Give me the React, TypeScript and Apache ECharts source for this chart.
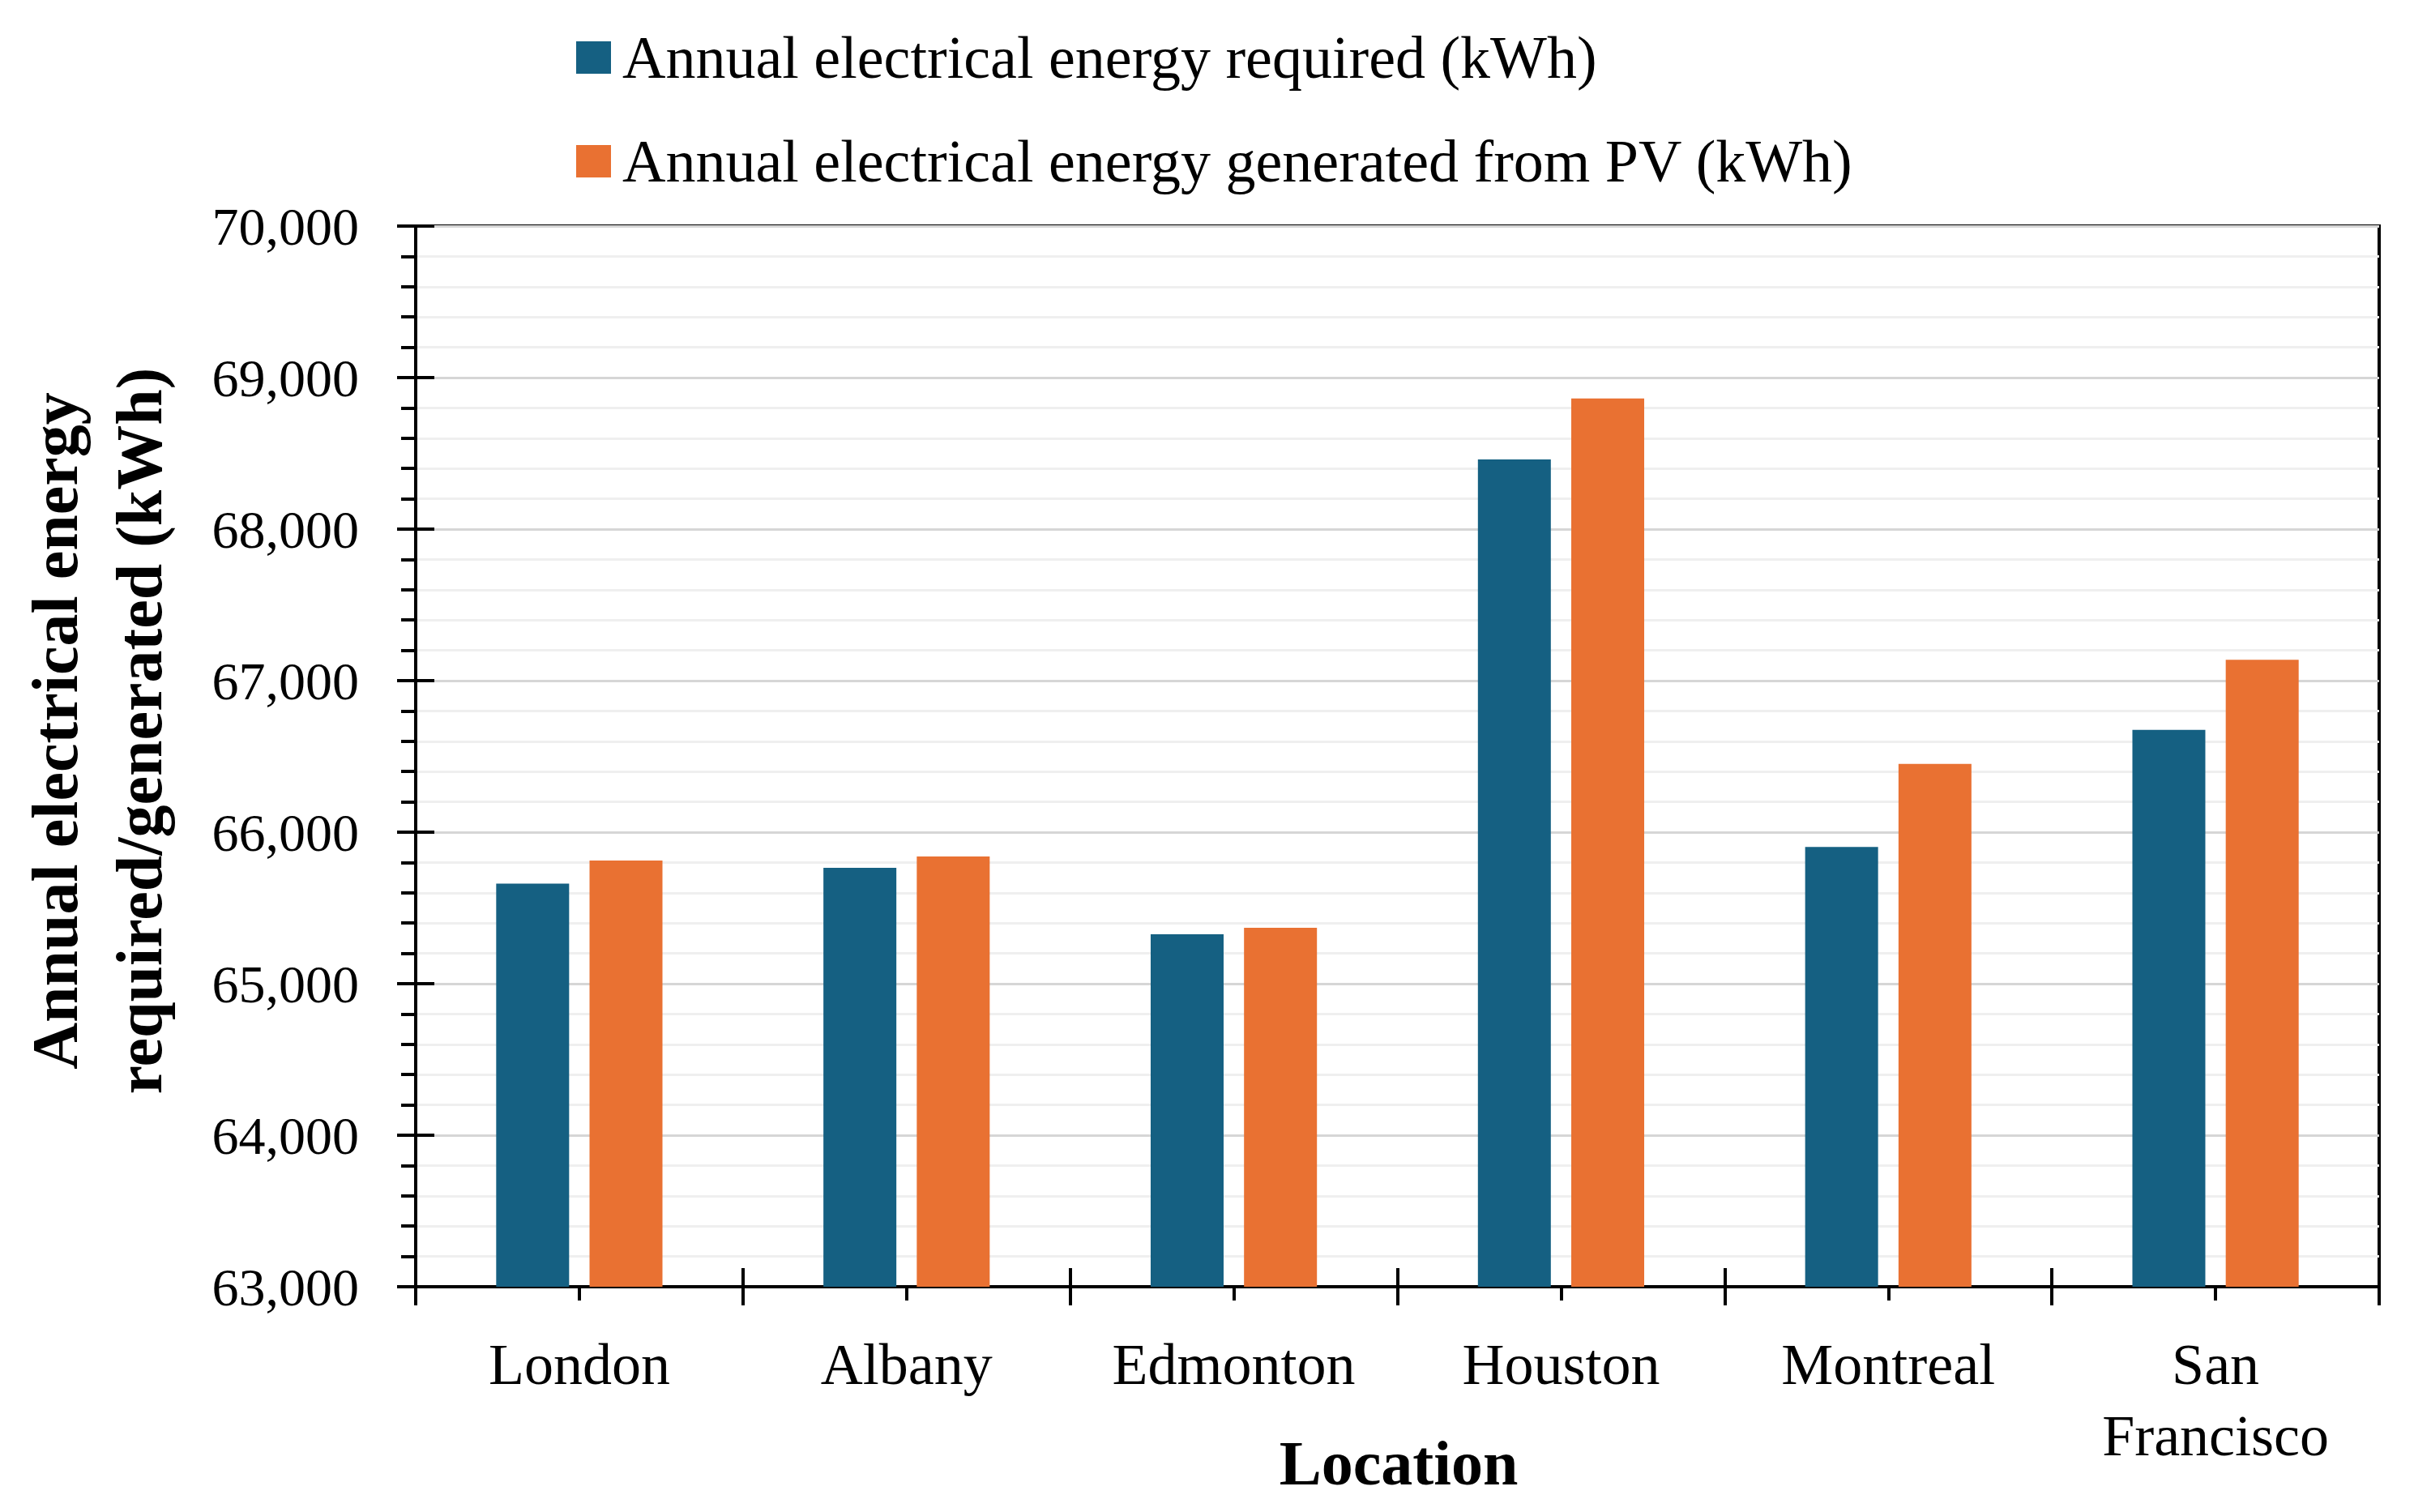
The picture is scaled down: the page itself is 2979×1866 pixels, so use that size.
import { useEffect, useRef } from "react";
import * as echarts from "echarts";

const FONT = "'Liberation Serif', 'Times New Roman', serif";

const locations = ["London", "Albany", "Edmonton", "Houston", "Montreal", "San\nFrancisco"];
const requiredKWh = [65660, 65765, 65326, 68460, 65902, 66675];
const generatedKWh = [65813, 65840, 65369, 68862, 66450, 67138];
const seriesNames = [
  "Annual electrical energy required (kWh)",
  "Annual electrical energy generated from PV (kWh)",
];
const yMin = 63000;
const yMax = 70000;
const yStep = 1000;

const App = () => {
  const chartRef = useRef(null);

  useEffect(() => {
    const chart = echarts.init(chartRef.current, null, { renderer: "svg" });

    const hiddenLine = { show: false };
    const option = {
      animation: false,
      backgroundColor: "#ffffff",
      textStyle: { fontFamily: FONT, color: "#000" },
      grid: {
        left: 513,
        right: 43,
        top: 279,
        bottom: 278,
        show: true,
        borderColor: "#000",
        borderWidth: 4,
      },
      legend: {
        orient: "vertical",
        left: 706,
        top: 29,
        itemWidth: 43,
        itemHeight: 40,
        itemGap: 54,
        icon: "rect",
        textStyle: {
          fontFamily: FONT,
          fontSize: 74,
          lineHeight: 74,
          color: "#000",
          padding: [0, 0, 0, 9],
        },
        data: seriesNames,
      },
      xAxis: [
        {
          type: "category",
          position: "bottom",
          data: locations,
          axisLine: { lineStyle: { color: "#000", width: 4 } },
          axisTick: { show: true, length: 23, lineStyle: { color: "#000", width: 4 } },
          axisLabel: {
            fontFamily: FONT,
            fontSize: 72,
            lineHeight: 88,
            color: "#000",
            margin: 52,
            interval: 0,
          },
          splitLine: { show: false },
        },
        {
          type: "category",
          position: "bottom",
          data: locations,
          axisLine: hiddenLine,
          axisTick: { show: true, inside: true, length: 23, lineStyle: { color: "#000", width: 4 } },
          axisLabel: { show: false },
          splitLine: { show: false },
        },
        {
          type: "category",
          position: "bottom",
          data: locations,
          axisLine: hiddenLine,
          axisTick: {
            show: true,
            alignWithLabel: true,
            length: 17,
            lineStyle: { color: "#000", width: 4 },
          },
          axisLabel: { show: false },
          splitLine: { show: false },
        },
      ],
      yAxis: [
        {
          type: "value",
          position: "left",
          min: yMin,
          max: yMax,
          interval: yStep,
          axisLine: { show: true, lineStyle: { color: "#000", width: 4 } },
          axisTick: { show: true, length: 23, lineStyle: { color: "#000", width: 4 } },
          minorTick: { show: true, splitNumber: 5, length: 18, lineStyle: { color: "#000", width: 4 } },
          axisLabel: {
            fontFamily: FONT,
            fontSize: 66,
            color: "#000",
            margin: 70,
            formatter: (v: number) => v.toLocaleString("en-US"),
          },
          splitLine: { show: true, lineStyle: { color: "#d6d6d6", width: 3 } },
          minorSplitLine: { show: true, lineStyle: { color: "#efefef", width: 3 } },
        },
        {
          type: "value",
          position: "left",
          min: yMin,
          max: yMax,
          interval: yStep,
          axisLine: hiddenLine,
          axisTick: { show: true, inside: true, length: 23, lineStyle: { color: "#000", width: 4 } },
          axisLabel: { show: false },
          splitLine: { show: false },
        },
      ],
      series: [
        {
          name: seriesNames[0],
          type: "bar",
          data: requiredKWh,
          barWidth: 90,
          barGap: "28%",
          itemStyle: { color: "#156082" },
        },
        {
          name: seriesNames[1],
          type: "bar",
          data: generatedKWh,
          barWidth: 90,
          barGap: "28%",
          itemStyle: { color: "#e97132" },
        },
      ],
      graphic: [
        {
          type: "text",
          x: 1726,
          y: 1805,
          style: {
            text: "Location",
            fontFamily: FONT,
            fontWeight: "bold",
            fontSize: 78,
            fill: "#000",
            align: "center",
            verticalAlign: "middle",
          },
        },
        {
          type: "text",
          x: 120,
          y: 902,
          rotation: Math.PI / 2,
          style: {
            text: "Annual electrical energy\nrequired/generated (kWh)",
            fontFamily: FONT,
            fontWeight: "bold",
            fontSize: 80,
            lineHeight: 104,
            fill: "#000",
            align: "center",
            verticalAlign: "middle",
          },
        },
      ],
    };

    chart.setOption(option);

    return () => {
      chart.dispose();
    };
  }, []);

  return (
    <div
      ref={chartRef}
      style={{ position: "absolute", left: 0, top: 0, width: "2979px", height: "1866px" }}
    ></div>
  );
};

export default App;
